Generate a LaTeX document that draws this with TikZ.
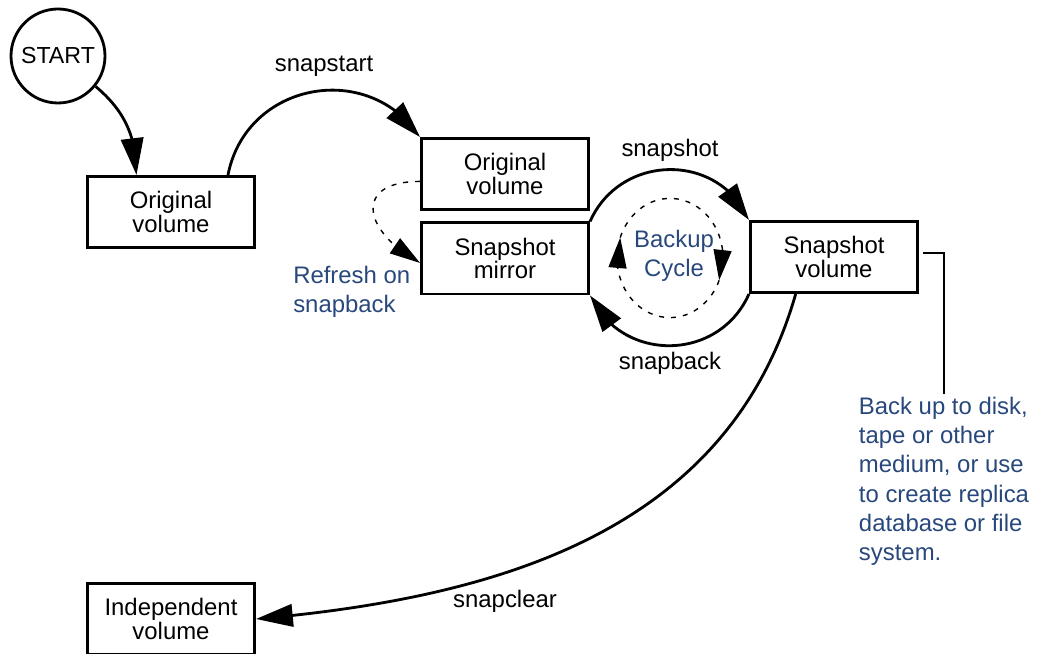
\documentclass[tikz,border=0pt]{standalone}
\usepackage{fontspec}
\setmainfont{Liberation Sans}
\usetikzlibrary{arrows.meta,bending}
\definecolor{notecol}{RGB}{40,72,124}

\begin{document}
\begin{tikzpicture}[
	vol/.style={draw, line width=2pt, minimum width=4.18cm, minimum height=1.78cm, align=center, font=\fontsize{17}{17}\selectfont},
	lbl/.style={font=\fontsize{17}{17}\selectfont},
	bluetext/.style={text=notecol, align=left, font=\fontsize{17}{20.8}\selectfont},
	flow/.style={line width=2pt, -{Triangle[length=0.92cm,width=0.56cm]}},
	cyc/.style={line width=1pt, dash pattern=on 3.5pt off 5pt, -{Triangle[length=0.76cm,width=0.45cm]}}
	]
	\useasboundingbox (0,0) rectangle (25.925,16.35);
	\node[draw, circle, line width=2pt, minimum size=2.35cm, font=\fontsize{16.5}{16.5}\selectfont] (S) at (1.45,14.95) {START};
	\node[vol] (X1) at (4.275,11.05) {Original\\volume};
	\node[vol] (X2) at (12.625,12.0) {Original\\volume};
	\node[vol] (X3) at (12.625,9.8875) {Snapshot\\mirror};
	\node[vol] (X4) at (20.85,9.925) {Snapshot\\volume};
	\node[vol] (X5) at (4.275,0.875) {Independent\\volume};
	\node[lbl] (L1) at (8.1,14.7) {snapstart};
	\node[lbl] (L2) at (16.75,12.6) {snapshot};
	\node[lbl] (L3) at (16.75,7.275) {snapback};
	\node[lbl] (L4) at (12.625,1.325) {snapclear};
	\node[bluetext, anchor=west, inner sep=0pt] (R) at (7.325,9.05) {Refresh on\\snapback};
	\node[bluetext, align=center] (B) at (16.85,9.95) {Backup\\Cycle};
	\node[bluetext, anchor=north, inner sep=2pt] (N) at (23.6,6.5) {Back up to disk,\\tape or other\\medium, or use\\to create replica\\database or file\\system.};
	\coordinate (C) at (16.75,9.9);
	\draw[flow] (S.-39) to[out=-40,in=90] (X1.133);
	\draw[flow] (X1.33) to[out=79,in=124,looseness=1.23] (X2.north west);
	\draw[flow] (X3.north east) to[out=66,in=114,looseness=1.2] (X4.north west);
	\draw[flow] (X4.south west) to[out=-114,in=-65,looseness=1.2] (X3.south east);
	\draw[flow] (X4.224) to[out=-106,in=5] (X5.east);
	\draw[cyc] (X2.185) to[out=180,in=151,looseness=2.1] (X3.183);
	\draw[cyc] ([shift={(160:1.325cm and 1.49cm)}]C) arc[start angle=160,end angle=-22,x radius=1.325cm,y radius=1.49cm];
	\draw[cyc] ([shift={(-22:1.325cm and 1.49cm)}]C) arc[start angle=-22,end angle=-200,x radius=1.325cm,y radius=1.49cm];
	\draw[line width=0.8pt] ([shift={(0.1,0.1)}]X4.east) -| (N.north);
\end{tikzpicture}
\end{document}
